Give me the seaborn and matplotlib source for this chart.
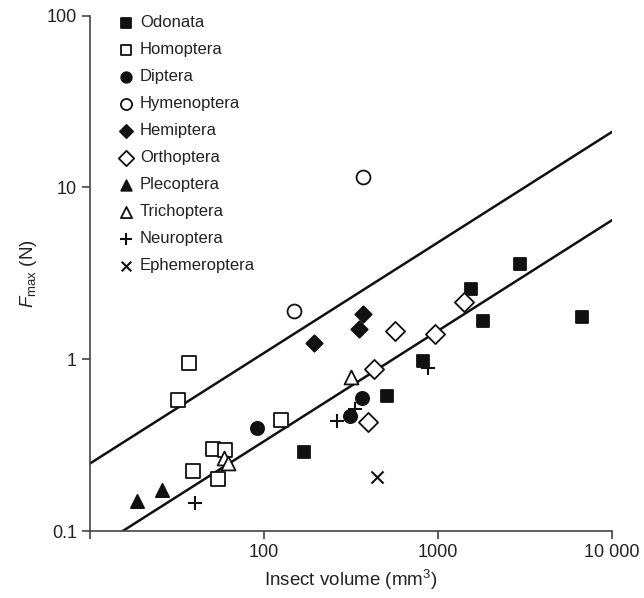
import numpy as np
import pandas as pd
import matplotlib
matplotlib.use("Agg")
import matplotlib.pyplot as plt
import seaborn as sns

# ---- data (insect volume mm^3, Fmax N) ----
odonata_x = [169, 510, 822, 1540, 1805, 2958, 6750]
odonata_y = [0.287, 0.611, 0.98, 2.55, 1.67, 3.58, 1.77]
homoptera_x = [36.8, 31.8, 124.5, 50.6, 59.3, 39.1, 54.2]
homoptera_y = [0.954, 0.577, 0.443, 0.299, 0.296, 0.223, 0.200]
diptera_x = [90.6, 311, 364]
diptera_y = [0.396, 0.469, 0.591]
hymenoptera_x = [148, 371]
hymenoptera_y = [1.91, 11.5]
hemiptera_x = [193, 349, 371]
hemiptera_y = [1.25, 1.50, 1.83]
orthoptera_x = [397, 430, 567, 959, 1415]
orthoptera_y = [0.433, 0.873, 1.46, 1.41, 2.16]
plecoptera_x = [18.5, 25.8]
plecoptera_y = [0.150, 0.173]
trichoptera_x = [316, 59, 61.6]
trichoptera_y = [0.791, 0.265, 0.250]
neuroptera_x = [40, 261, 333, 871]
neuroptera_y = [0.146, 0.438, 0.513, 0.892]
ephemeroptera_x = [447]
ephemeroptera_y = [0.206]

orders = ["Odonata", "Homoptera", "Diptera", "Hymenoptera", "Hemiptera",
          "Orthoptera", "Plecoptera", "Trichoptera", "Neuroptera", "Ephemeroptera"]
xs = [odonata_x, homoptera_x, diptera_x, hymenoptera_x, hemiptera_x,
      orthoptera_x, plecoptera_x, trichoptera_x, neuroptera_x, ephemeroptera_x]
ys = [odonata_y, homoptera_y, diptera_y, hymenoptera_y, hemiptera_y,
      orthoptera_y, plecoptera_y, trichoptera_y, neuroptera_y, ephemeroptera_y]

# fitted lines: log10(F) = intercept + slope*log10(V)
fit_slope = 0.643
upper_intercept = -1.249
lower_intercept = -1.763

x_ticks = [10, 100, 1000, 10000]
x_ticklabels = ["", "100", "1000", "10 000"]
y_ticks = [0.1, 1, 10, 100]
y_ticklabels = ["0.1", "1", "10", "100"]

# ---- styles ----
styles = {
    "Odonata":       dict(marker="s", fc="#111111", s=70),
    "Homoptera":     dict(marker="s", fc="white", s=95),
    "Diptera":       dict(marker="o", fc="#111111", s=90),
    "Hymenoptera":   dict(marker="o", fc="white", s=100),
    "Hemiptera":     dict(marker="D", fc="#111111", s=70),
    "Orthoptera":    dict(marker="D", fc="white", s=95),
    "Plecoptera":    dict(marker="^", fc="#111111", s=90),
    "Trichoptera":   dict(marker="^", fc="white", s=100),
    "Neuroptera":    dict(marker="+", fc="#111111", s=110),
    "Ephemeroptera": dict(marker="x", fc="#111111", s=75),
}

rows = []
for name, xv, yv in zip(orders, xs, ys):
    for a, b in zip(xv, yv):
        rows.append({"order": name, "volume": a, "fmax": b})
df = pd.DataFrame(rows)

sns.set_theme(style="ticks")
plt.rcParams["font.family"] = ["Liberation Sans", "DejaVu Sans"]
plt.rcParams["mathtext.fontset"] = "custom"
plt.rcParams["mathtext.rm"] = "Liberation Sans"
plt.rcParams["mathtext.it"] = "Liberation Sans:italic"

fig = plt.figure(figsize=(6.44, 5.98), dpi=100)
ax = fig.add_axes([0.1402, 0.112, 0.8101, 0.862])

# fit lines
line_x = np.geomspace(10, 10000, 100)
for icpt in (upper_intercept, lower_intercept):
    line_y = 10 ** (icpt + fit_slope * np.log10(line_x))
    sns.lineplot(x=line_x, y=line_y, ax=ax, color="#111111", linewidth=1.8,
                 zorder=2, legend=False)

for name in orders:
    st = styles[name]
    sub = df[df["order"] == name]
    filled = st["marker"] not in ("+", "x")
    kw = dict(marker=st["marker"], s=st["s"], facecolor=st["fc"], zorder=3,
              label=name, ax=ax, legend=False)
    if filled:
        kw.update(edgecolor="#111111", linewidth=1.3)
    else:
        kw.update(linewidth=1.5)
    sns.scatterplot(data=sub, x="volume", y="fmax", **kw)

ax.set_xscale("log")
ax.set_yscale("log")
ax.set_xlim(10, 10000)
ax.set_ylim(0.1, 100)
ax.set_xticks(x_ticks)
ax.set_xticklabels(x_ticklabels)
ax.set_yticks(y_ticks)
ax.set_yticklabels(y_ticklabels)
ax.minorticks_off()

for sp in ("top", "right"):
    ax.spines[sp].set_visible(False)
for sp in ("left", "bottom"):
    ax.spines[sp].set_color("#444444")
    ax.spines[sp].set_linewidth(1.2)
    ax.spines[sp].set_clip_on(False)

ax.tick_params(axis="both", direction="out", length=6, width=1.2,
               color="#444444", labelsize=13, labelcolor="#222222", pad=3.5)

ax.set_xlabel(r"Insect volume (mm$^{3}$)", fontsize=13.5, color="#222222",
              labelpad=5)
ax.set_ylabel(r"$F_{\mathrm{max}}$ (N)", fontsize=13.5, color="#222222",
              labelpad=6)

leg = ax.legend(loc="upper left", bbox_to_anchor=(0.036, 1.014), frameon=False,
                fontsize=12, labelspacing=0.72, handletextpad=0.25,
                handlelength=1.2, markerscale=0.8, borderaxespad=0)
for t in leg.get_texts():
    t.set_color("#222222")

fig.savefig("out.png", dpi=100)
